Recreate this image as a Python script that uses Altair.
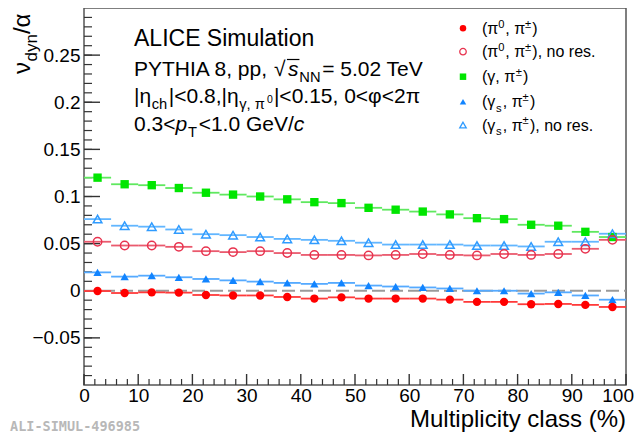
import altair as alt
import pandas as pd

# ---------------- data ----------------
bin_centers = [2.5, 7.5, 12.5, 17.5, 22.5, 27.5, 32.5, 37.5, 42.5, 47.5,
               52.5, 57.5, 62.5, 67.5, 72.5, 77.5, 82.5, 87.5, 92.5, 97.5]
bin_half = [2.5] * 20

pi0_pich = [-0.0003, -0.0024, -0.0017, -0.0020, -0.0045, -0.0050, -0.0050, -0.0066, -0.0083, -0.0070,
            -0.0083, -0.0083, -0.0083, -0.0094, -0.0118, -0.0118, -0.0143, -0.0140, -0.0150, -0.0172]
pi0_pich_nores = [0.052, 0.048, 0.048, 0.0466, 0.042, 0.041, 0.042, 0.040, 0.038, 0.038,
                  0.0375, 0.038, 0.039, 0.038, 0.0375, 0.039, 0.038, 0.039, 0.0445, 0.054]
gamma_pich = [0.120, 0.113, 0.112, 0.109, 0.104, 0.102, 0.100, 0.097, 0.094, 0.093,
              0.088, 0.086, 0.084, 0.081, 0.077, 0.076, 0.070, 0.069, 0.0625, 0.057]
gammas_pich = [0.0195, 0.015, 0.016, 0.0143, 0.0125, 0.011, 0.0097, 0.0083, 0.0073, 0.0083,
               0.0055, 0.0045, 0.0035, 0.0024, 0.0, 0.0, -0.003, -0.0017, -0.005, -0.0095]
gammas_pich_nores = [0.076, 0.069, 0.068, 0.065, 0.060, 0.059, 0.057, 0.055, 0.054, 0.053,
                     0.051, 0.049, 0.049, 0.049, 0.048, 0.048, 0.047, 0.052, 0.052, 0.0605]

y_major = [-0.05, 0, 0.05, 0.1, 0.15, 0.2, 0.25]
y_minor = [round(-0.09 + 0.01 * i, 2) for i in range(39)]
x_major = [0, 10, 20, 30, 40, 50, 60, 70, 80, 90, 100]
x_minor = [v for v in range(2, 100, 2) if v % 10]

# ---------------- layout ----------------
W, H = 542, 377
XD, YD = [0, 100], [-0.1, 0.3]
FONT = "Liberation Sans"

xs = alt.Scale(domain=XD, nice=False, zero=False)
ys = alt.Scale(domain=YD, nice=False, zero=False)
xaxis = alt.Axis(values=x_major, labelExpr="datum.value == 100 ? '' : format(datum.value, 'd')",
                 labelFontSize=19, labelFont=FONT, labelColor="black",
                 tickSize=0, domain=False, grid=False, title=None, labelPadding=1,
                 labelFlush=False, labelOverlap=False)
yaxis = alt.Axis(values=y_major, labelExpr="format(datum.value, '~g')", labelFontSize=19,
                 labelFont=FONT, labelColor="black", tickSize=0, domain=False, grid=False,
                 title=None, labelPadding=4, labelOverlap=False)


def X(f):
    return alt.X(f, type="quantitative", scale=xs, axis=xaxis)


def Y(f):
    return alt.Y(f, type="quantitative", scale=ys, axis=yaxis)


def px2x(vx):
    return XD[0] + vx / W * (XD[1] - XD[0])


def px2y(vy):
    return YD[1] - vy / H * (YD[1] - YD[0])


CW = {' ': 0.278, ',': 0.278, '.': 0.278, '(': 0.333, ')': 0.333, '|': 0.26, '<': 0.584,
      '=': 0.584, '/': 0.278, '±': 0.584, '√': 0.66, 'π': 0.68, 'γ': 0.54, 'η': 0.58,
      'φ': 0.68, 'ν': 0.52, 'α': 0.6, 'A': 0.667, 'C': 0.722, 'E': 0.667, 'G': 0.778,
      'H': 0.722, 'I': 0.278, 'L': 0.556, 'N': 0.722, 'P': 0.667, 'S': 0.667, 'T': 0.611,
      'V': 0.667, 'Y': 0.667, 'c': 0.5, 'i': 0.222, 'l': 0.222, 'm': 0.833, 'r': 0.333,
      's': 0.5, 't': 0.278, 'v': 0.5, 'y': 0.5}


def tw(s, size):
    return sum(CW.get(c, 0.556) for c in s) * size


def rich(pieces, vx, vy, S):
    rows, x = [], vx
    for text, kind in pieces:
        fs, dy, gap = S, 0.0, 0.0
        if kind == "sub":
            fs, dy, gap = 0.7 * S, 0.3 * S, 0.08 * S
        elif kind == "sup":
            fs, dy, gap = 0.7 * S, -0.38 * S, 0.05 * S
        elif kind == "subsup":
            fs, dy, gap = 0.5 * S, 0.0, 0.05 * S
        elif kind == "i":
            gap = 0.04 * S
        rows.append(dict(text=text, vx=x, vy=vy + dy, fs=fs, it=(kind == "i")))
        x += tw(text, fs) + gap
    return rows


layers = []

# inward ticks
layers.append(alt.Chart(pd.DataFrame({"v": y_minor})).mark_rule(color="#333", strokeWidth=1.2)
              .encode(y=Y("v"), x=alt.value(0), x2=alt.value(8)))
layers.append(alt.Chart(pd.DataFrame({"v": y_major})).mark_rule(color="#333", strokeWidth=1.4)
              .encode(y=Y("v"), x=alt.value(0), x2=alt.value(16)))
layers.append(alt.Chart(pd.DataFrame({"v": x_minor})).mark_rule(color="#333", strokeWidth=1.2)
              .encode(x=X("v"), y=alt.value(H), y2=alt.value(H - 6)))
layers.append(alt.Chart(pd.DataFrame({"v": x_major})).mark_rule(color="#333", strokeWidth=1.4)
              .encode(x=X("v"), y=alt.value(H), y2=alt.value(H - 11)))

# zero line
layers.append(alt.Chart(pd.DataFrame({"lo": [XD[0]], "hi": [XD[1]], "v": [0.0]}))
              .mark_rule(color="#9a9a9a", strokeWidth=2, strokeDash=[13, 5])
              .encode(x=X("lo"), x2=alt.X2("hi"), y=Y("v")))

series = [
    dict(vals=gamma_pich, shape="square", filled=True, col="#00e600", line="#5fe85f", size=70),
    dict(vals=gammas_pich_nores, shape="triangle-up", filled=False, col="#2f9bff", line="#62b6ff", size=75),
    dict(vals=pi0_pich_nores, shape="circle", filled=False, col="#e8324e", line="#ea5a6e", size=70),
    dict(vals=gammas_pich, shape="triangle-up", filled=True, col="#1184ff", line="#55aaff", size=70),
    dict(vals=pi0_pich, shape="circle", filled=True, col="#ff0000", line="#ff3a3a", size=70),
]

for s in series:
    df = pd.DataFrame({"x": bin_centers, "v": s["vals"],
                       "lo": [c - h for c, h in zip(bin_centers, bin_half)],
                       "hi": [c + h for c, h in zip(bin_centers, bin_half)]})
    layers.append(alt.Chart(df).mark_rule(color=s["line"], strokeWidth=1.8)
                  .encode(x=X("lo"), x2=alt.X2("hi"), y=Y("v")))
for s in series:
    df = pd.DataFrame({"x": bin_centers, "v": s["vals"]})
    layers.append(alt.Chart(df).mark_point(shape=s["shape"], filled=s["filled"], color=s["col"],
                                           size=s["size"], strokeWidth=1.5, opacity=1)
                  .encode(x=X("x"), y=Y("v")))

# ---------------- legend ----------------
leg_style = [
    dict(shape="circle", filled=True, col="#ff0000"),
    dict(shape="circle", filled=False, col="#e8324e"),
    dict(shape="square", filled=True, col="#00e600"),
    dict(shape="triangle-up", filled=True, col="#1184ff"),
    dict(shape="triangle-up", filled=False, col="#2f9bff"),
]
leg_labels = [
    [("(π", "n"), ("0", "sup"), (", π", "n"), ("±", "sup"), (")", "n")],
    [("(π", "n"), ("0", "sup"), (", π", "n"), ("±", "sup"), ("), no res.", "n")],
    [("(γ, π", "n"), ("±", "sup"), (")", "n")],
    [("(γ", "n"), ("s", "sub"), (", π", "n"), ("±", "sup"), (")", "n")],
    [("(γ", "n"), ("s", "sub"), (", π", "n"), ("±", "sup"), ("), no res.", "n")],
]
leg_rows_y = [20.3, 43.7, 68.7, 93.7, 117.0]
leg_mx, leg_tx = 379, 398

text_rows = []
for st, lab, ry in zip(leg_style, leg_labels, leg_rows_y):
    layers.append(alt.Chart(pd.DataFrame({"x": [px2x(leg_mx)], "v": [px2y(ry)]}))
                  .mark_point(shape=st["shape"], filled=st["filled"], color=st["col"], size=42,
                              strokeWidth=1.3, opacity=1)
                  .encode(x=X("x"), y=Y("v")))
    text_rows += rich(lab, leg_tx, ry + 5.5, 16)

# ---------------- annotation text ----------------
TX = 50
text_rows += rich([("ALICE Simulation", "n")], TX, 38, 23)
line2 = rich([("PYTHIA 8, pp, ", "n"), ("√", "n"), ("s", "i"), ("NN", "sub"),
              (" = 5.02 TeV", "n")], TX, 68, 21)
text_rows += line2
text_rows += rich([("|η", "n"), ("ch", "sub"), ("|<0.8,|η", "n"), ("γ, π", "sub"), ("0", "subsup"),
                   ("|<0.15, 0<φ<2π", "n")], TX, 95, 21)
text_rows += rich([("0.3<", "n"), ("p", "i"), ("T", "sub"), ("<1.0 GeV/", "n"), ("c", "i")],
                  TX, 123, 21)

# overline of the square root
s_piece = line2[2]
ov = pd.DataFrame({"lo": [px2x(s_piece["vx"] - 1)], "hi": [px2x(s_piece["vx"] + tw("s", 21) + 1)],
                   "v": [px2y(68 - 16.5)]})
layers.append(alt.Chart(ov).mark_rule(color="black", strokeWidth=1.2)
              .encode(x=X("lo"), x2=alt.X2("hi"), y=Y("v")))

tdf = pd.DataFrame(text_rows)
tdf["x"] = tdf["vx"].map(px2x)
tdf["v"] = tdf["vy"].map(px2y)
for it, style in [(False, "normal"), (True, "italic")]:
    sub = tdf[tdf["it"] == it]
    layers.append(alt.Chart(sub).mark_text(align="left", baseline="alphabetic", font=FONT,
                                           fontStyle=style, color="black")
                  .encode(x=X("x"), y=Y("v"), text="text:N",
                          size=alt.Size("fs:Q", scale=None, legend=None)))

# last x tick label, kept inside the canvas
layers.append(alt.Chart(pd.DataFrame({"x": [px2x(W + 8)], "v": [px2y(H + 2)], "t": ["100"]}))
              .mark_text(align="right", baseline="top", font=FONT, fontSize=19, color="black")
              .encode(x=X("x"), y=Y("v"), text="t:N"))

# x-axis title
layers.append(alt.Chart(pd.DataFrame({"x": [px2x(W)], "v": [px2y(419)], "t": ["Multiplicity class (%)"]}))
              .mark_text(align="right", baseline="alphabetic", font=FONT, fontSize=24, color="black")
              .encode(x=X("x"), y=Y("v"), text="t:N"))

# y-axis title (rotated)
yt = []
start = 66
for text, kind in [("ν", "n"), ("dyn", "sub"), ("/α", "n")]:
    fs = 24 if kind == "n" else 17
    bx = -54 if kind == "n" else -47
    yt.append(dict(text=text, x=px2x(bx), v=px2y(start), fs=fs))
    start -= tw(text, fs)
layers.append(alt.Chart(pd.DataFrame(yt)).mark_text(align="left", baseline="alphabetic", angle=270,
                                                      font=FONT, color="black")
              .encode(x=X("x"), y=Y("v"), text="text:N", size=alt.Size("fs:Q", scale=None, legend=None)))

# watermark
layers.append(alt.Chart(pd.DataFrame({"x": [px2x(-74)], "v": [px2y(423)], "t": ["ALI-SIMUL-496985"]}))
              .mark_text(align="left", baseline="alphabetic", font="DejaVu Sans Mono", fontWeight="bold",
                         fontSize=13.5, color="#b8b8b8")
              .encode(x=X("x"), y=Y("v"), text="t:N"))

chart = (alt.layer(*layers)
         .properties(width=W, height=H, autosize=alt.AutoSizeParams(type="none"),
                     padding={"left": 76, "top": 0, "right": 8, "bottom": 50})
         .configure_view(stroke="#555", strokeWidth=1.5))

chart.save("out.html", embed_options={"renderer": "svg", "actions": False})
